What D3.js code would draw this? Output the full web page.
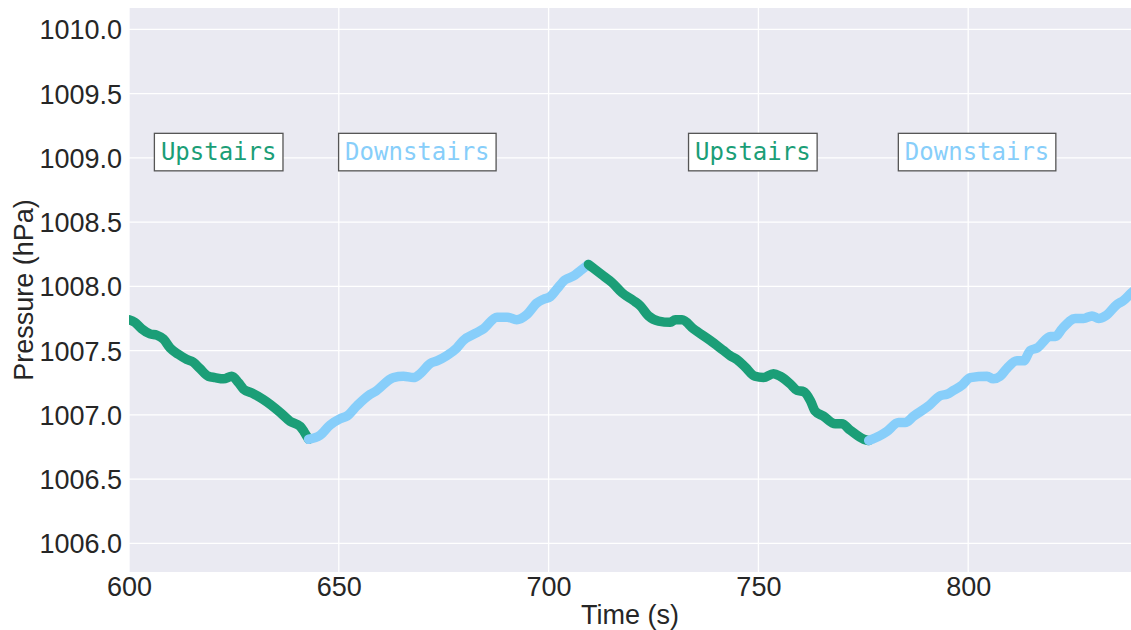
<!DOCTYPE html>
<html>
<head>
<meta charset="utf-8">
<script src="https://cdn.jsdelivr.net/npm/d3@7"></script>
<style>
  body { margin: 0; background: #fff; }
</style>
</head>
<body>
<div id="chart"></div>
<script>
// pressure readings, split by staircase direction
var up1Time = [600, 601.4, 603.0, 605.0, 606.6, 608.2, 609.8, 611.8, 613.8, 615.3, 616.9, 618.9, 620.5, 622.5, 624.5, 626.1, 627.3, 629.3, 632.0, 636.0, 638.4, 640.8, 641.7, 642.8];
var up1Pres = [1007.74, 1007.72, 1007.67, 1007.63, 1007.62, 1007.59, 1007.52, 1007.47, 1007.43, 1007.41, 1007.36, 1007.30, 1007.29, 1007.28, 1007.30, 1007.25, 1007.20, 1007.17, 1007.12, 1007.02, 1006.95, 1006.91, 1006.87, 1006.81];

var down1Time = [642.8, 645.5, 647.9, 650.3, 651.9, 654.3, 657.5, 658.6, 663.0, 665.4, 667.8, 669.4, 671.8, 673.4, 675.7, 678.1, 679.7, 682.9, 684.5, 687.7, 690.1, 692.4, 694.8, 697.2, 698.8, 700.4, 702.0, 703.9, 705.9, 707.5, 709.1, 709.5];
var down1Pres = [1006.81, 1006.84, 1006.92, 1006.97, 1006.99, 1007.07, 1007.16, 1007.18, 1007.29, 1007.30, 1007.29, 1007.32, 1007.40, 1007.42, 1007.46, 1007.52, 1007.58, 1007.64, 1007.67, 1007.76, 1007.76, 1007.74, 1007.78, 1007.87, 1007.90, 1007.92, 1007.98, 1008.05, 1008.08, 1008.12, 1008.16, 1008.17];

var up2Time = [709.5, 710.7, 713.1, 715.1, 717.5, 720.2, 721.8, 723.8, 726.2, 729.0, 730.2, 731.8, 734.5, 738.5, 741.7, 743.3, 744.9, 746.9, 749.2, 751.2, 753.6, 755.2, 757.6, 759.2, 760.8, 762.4, 763.5, 765.5, 768.3, 769.9, 771.9, 775.1, 776.3];
var up2Pres = [1008.17, 1008.14, 1008.08, 1008.03, 1007.95, 1007.89, 1007.85, 1007.77, 1007.73, 1007.72, 1007.74, 1007.74, 1007.67, 1007.58, 1007.50, 1007.46, 1007.43, 1007.37, 1007.30, 1007.29, 1007.32, 1007.30, 1007.24, 1007.19, 1007.18, 1007.11, 1007.03, 1006.99, 1006.93, 1006.93, 1006.88, 1006.81, 1006.80];

var down2Time = [776.3, 779.1, 780.6, 783.4, 785.0, 787.0, 790.6, 793.4, 794.9, 796.5, 798.5, 800.5, 804.5, 806.0, 807.6, 809.2, 811.6, 813.2, 814.8, 816.4, 819.6, 820.8, 822.4, 825.5, 827.5, 829.5, 831.1, 832.7, 835.5, 837.0, 838.9, 840.0];
var down2Pres = [1006.80, 1006.84, 1006.87, 1006.94, 1006.94, 1006.99, 1007.07, 1007.15, 1007.16, 1007.19, 1007.23, 1007.29, 1007.30, 1007.28, 1007.30, 1007.36, 1007.42, 1007.42, 1007.50, 1007.52, 1007.61, 1007.61, 1007.67, 1007.75, 1007.75, 1007.77, 1007.75, 1007.77, 1007.86, 1007.89, 1007.95, 1007.98];

var xTicks = [600, 650, 700, 750, 800];
var yTicks = [1006.0, 1006.5, 1007.0, 1007.5, 1008.0, 1008.5, 1009.0, 1009.5, 1010.0];

// annotation labels
var labelText = ["Upstairs", "Downstairs", "Upstairs", "Downstairs"];
var labelTime = [607.6, 651.5, 734.9, 784.9];
var labelPres = [1009.0, 1009.0, 1009.0, 1009.0];

var green = "#1b9e77", blue = "#87cefa";

var W = 1131, H = 630;
var margin = {top: 8, right: 0, bottom: 58, left: 129},
    width = W - margin.left - margin.right,
    height = H - margin.top - margin.bottom;

var svg = d3.select("#chart")
  .append("svg")
    .attr("width", W)
    .attr("height", H)
  .append("g")
    .attr("transform", "translate(" + margin.left + "," + margin.top + ")");

var x = d3.scaleLinear()
  .domain([600, 838.8])
  .range([0, width]);

var y = d3.scaleLinear()
  .domain([1005.777, 1010.166])
  .range([height, 0]);

// background
svg.append("rect")
  .attr("width", width)
  .attr("height", height)
  .attr("fill", "#eaeaf2");

// grid
svg.append("g")
  .selectAll("line")
  .data(yTicks)
  .enter()
  .append("line")
    .attr("x1", 0)
    .attr("x2", width)
    .attr("y1", function(d) { return y(d) })
    .attr("y2", function(d) { return y(d) })
    .attr("stroke", "#fff")
    .attr("stroke-width", 1.3);

svg.append("g")
  .selectAll("line")
  .data(xTicks)
  .enter()
  .append("line")
    .attr("y1", 0)
    .attr("y2", height)
    .attr("x1", function(d) { return x(d) })
    .attr("x2", function(d) { return x(d) })
    .attr("stroke", "#fff")
    .attr("stroke-width", 1.3);

// axes (labels only, no tick marks)
var xAxis = svg.append("g")
  .attr("transform", "translate(0," + height + ")")
  .call(d3.axisBottom(x).tickValues(xTicks).tickSize(0).tickPadding(5).tickFormat(d3.format("d")));
var yAxis = svg.append("g")
  .call(d3.axisLeft(y).tickValues(yTicks).tickSize(0).tickPadding(7).tickFormat(d3.format(".1f")));

[xAxis, yAxis].forEach(function(a) {
  a.select(".domain").remove();
  a.selectAll("text")
    .style("font-family", "'Liberation Sans', Arial, sans-serif")
    .style("font-size", "27px")
    .attr("fill", "#262626");
});
yAxis.selectAll("text").attr("dy", "0.35em");

// line segments
var line = d3.line()
  .x(function(d) { return x(d[0]) })
  .y(function(d) { return y(d[1]) })
  .curve(d3.curveMonotoneX);

var clip = svg.append("clipPath").attr("id", "plotclip")
  .append("rect").attr("width", width).attr("height", height);

var segments = [
  {t: up1Time, p: up1Pres, c: green},
  {t: down1Time, p: down1Pres, c: blue},
  {t: up2Time, p: up2Pres, c: green},
  {t: down2Time, p: down2Pres, c: blue}
];

var lines = svg.append("g").attr("clip-path", "url(#plotclip)");
segments.forEach(function(s) {
  var pts = s.t.map(function(t, i) { return [t, s.p[i]] });
  lines.append("path")
    .datum(pts)
    .attr("d", line)
    .attr("fill", "none")
    .attr("stroke", s.c)
    .attr("stroke-width", 9.5)
    .attr("stroke-linecap", "round")
    .attr("stroke-linejoin", "round");
});

// annotation boxes
labelText.forEach(function(txt, i) {
  var g = svg.append("g");
  var t = g.append("text")
    .attr("x", x(labelTime[i]))
    .attr("y", y(labelPres[i]) + 2)
    .style("font-family", "'DejaVu Sans Mono', monospace")
    .style("font-size", "24px")
    .attr("fill", i % 2 === 0 ? green : blue)
    .text(txt);
  var bb = t.node().getBBox();
  g.insert("rect", "text")
    .attr("x", bb.x - 6.5)
    .attr("y", bb.y - 4.5)
    .attr("width", bb.width + 13)
    .attr("height", bb.height + 9.5)
    .attr("fill", "#fff")
    .attr("stroke", "#555")
    .attr("stroke-width", 1.3);
});

// axis titles
svg.append("text")
  .attr("x", width / 2)
  .attr("y", height + 52)
  .attr("text-anchor", "middle")
  .style("font-family", "'Liberation Sans', Arial, sans-serif")
  .style("font-size", "27px")
  .attr("fill", "#262626")
  .text("Time (s)");

svg.append("text")
  .attr("transform", "translate(" + (32.5 - margin.left) + "," + (height / 2) + ") rotate(-90)")
  .attr("text-anchor", "middle")
  .style("font-family", "'Liberation Sans', Arial, sans-serif")
  .style("font-size", "27px")
  .attr("fill", "#262626")
  .text("Pressure (hPa)");
</script>
</body>
</html>
